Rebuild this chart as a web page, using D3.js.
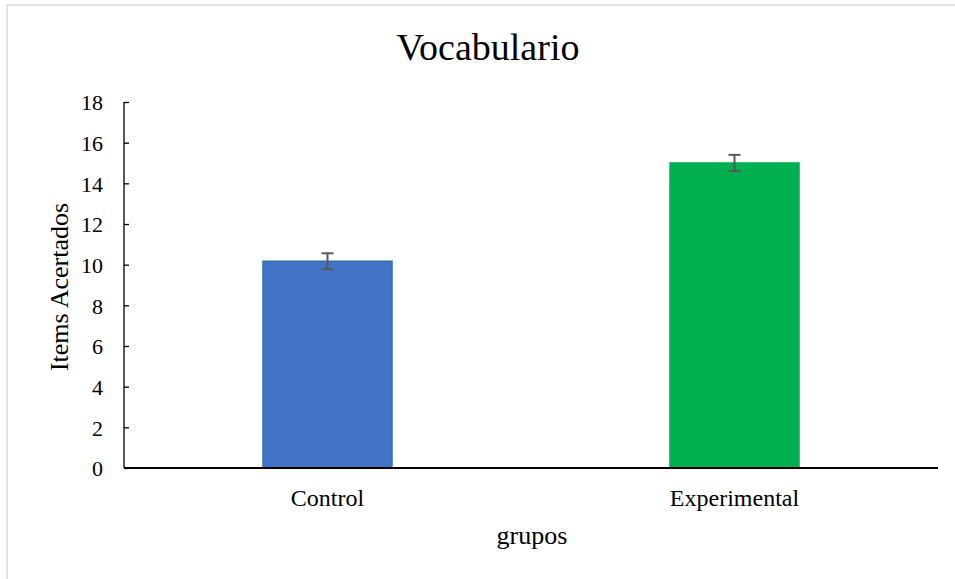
<!DOCTYPE html>
<html>
<head>
<meta charset="utf-8">
<script src="https://cdnjs.cloudflare.com/ajax/libs/d3/7.8.5/d3.min.js"></script>
<style>
  body { margin: 0; background: #fff; }
  svg text { font-family: "Liberation Serif", "Times New Roman", serif; fill: #000; }
</style>
</head>
<body>
<div id="chart"></div>
<script>
var svgWidth = 955, svgHeight = 579;

// data
var grupos = ["Control", "Experimental"];
var medias = [10.17, 15.0];
var errores = [0.39, 0.4];
var colores = ["#4472c4", "#00b050"];
var bordes = ["#2e75b6", "#00b050"];
var yTicks = [0, 2, 4, 6, 8, 10, 12, 14, 16, 18];

var margin = {left: 124, right: 17, top: 102, bottom: 111};

var svg = d3.select("#chart")
  .append("svg")
  .attr("width", svgWidth)
  .attr("height", svgHeight);

// chart border
svg.append("rect")
  .attr("x", 7)
  .attr("y", 5)
  .attr("width", 960)
  .attr("height", 600)
  .attr("fill", "none")
  .attr("stroke", "#d9d9d9")
  .attr("stroke-width", 1.5);

var x = d3.scaleBand()
  .domain(grupos)
  .range([margin.left, svgWidth - margin.right])
  .paddingInner(0.683)
  .paddingOuter(0.683 / 2);

var y = d3.scaleLinear()
  .domain([0, 18])
  .range([svgHeight - margin.bottom, margin.top]);

// bars
svg.append("g")
  .selectAll("rect")
  .data(grupos)
  .enter()
  .append("rect")
  .attr("x", d => x(d))
  .attr("y", (d, i) => y(medias[i]))
  .attr("width", x.bandwidth())
  .attr("height", (d, i) => y(0) - y(medias[i]))
  .attr("fill", (d, i) => colores[i])
  .attr("stroke", (d, i) => bordes[i])
  .attr("stroke-width", 1.5);

// error bars
var eb = svg.append("g")
  .attr("stroke", "#595959")
  .attr("stroke-width", 2);
grupos.forEach(function(g, i) {
  var cx = x(g) + x.bandwidth() / 2;
  var top = y(medias[i] + errores[i]), bot = y(medias[i] - errores[i]);
  eb.append("line").attr("x1", cx).attr("x2", cx).attr("y1", top).attr("y2", bot);
  eb.append("line").attr("x1", cx - 6).attr("x2", cx + 6).attr("y1", top).attr("y2", top);
  eb.append("line").attr("x1", cx - 6).attr("x2", cx + 6).attr("y1", bot).attr("y2", bot);
});

// y axis, ticks pointing inward
var yAxis = d3.axisRight(y)
  .tickValues(yTicks)
  .tickSize(5)
  .tickFormat(d3.format("d"));
var gy = svg.append("g")
  .attr("transform", "translate(" + margin.left + ",0)")
  .call(yAxis);
gy.select(".domain").attr("stroke", "#000").attr("stroke-width", 1.3)
  .attr("d", "M0," + y(0) + "V" + y(18));
gy.selectAll(".tick line").attr("stroke", "#000").attr("stroke-width", 1.3);
gy.selectAll(".tick text")
  .attr("x", -21)
  .attr("text-anchor", "end")
  .attr("font-size", 22)
  .attr("dy", "0.35em");

// x axis line
svg.append("line")
  .attr("x1", margin.left)
  .attr("x2", svgWidth - margin.right)
  .attr("y1", y(0))
  .attr("y2", y(0))
  .attr("stroke", "#000")
  .attr("stroke-width", 2);

// category labels
svg.append("g")
  .selectAll("text")
  .data(grupos)
  .enter()
  .append("text")
  .attr("x", d => x(d) + x.bandwidth() / 2)
  .attr("y", 506)
  .attr("text-anchor", "middle")
  .attr("font-size", 24)
  .text(d => d);

// title
svg.append("text")
  .attr("x", 488)
  .attr("y", 60)
  .attr("text-anchor", "middle")
  .attr("font-size", 38)
  .text("Vocabulario");

// axis titles
svg.append("text")
  .attr("x", 532)
  .attr("y", 544)
  .attr("text-anchor", "middle")
  .attr("font-size", 26)
  .text("grupos");

svg.append("text")
  .attr("transform", "translate(68,287) rotate(-90)")
  .attr("text-anchor", "middle")
  .attr("font-size", 26)
  .text("Items Acertados");
</script>
</body>
</html>
